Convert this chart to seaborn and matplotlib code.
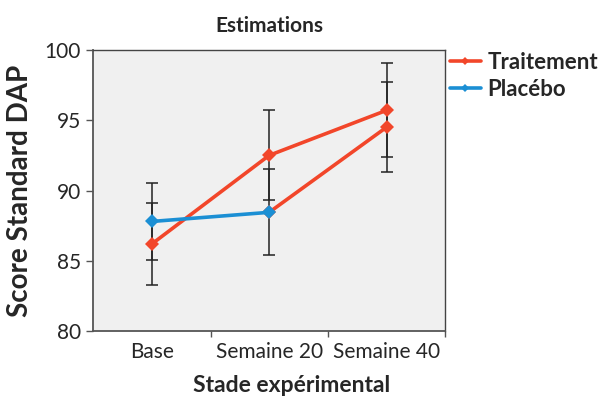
import pandas as pd
import matplotlib.pyplot as plt
import seaborn as sns

stades = ['Base', 'Semaine 20', 'Semaine 40']
traitement = [86.2, 92.5, 95.7]
traitement_err = [2.9, 3.2, 3.35]
placebo = [87.8, 88.45, 94.5]
placebo_err = [2.75, 3.05, 3.2]

df = pd.DataFrame({
    'Stade': stades * 2,
    'Score': traitement + placebo,
    'Groupe': ['Traitement'] * 3 + ['Placébo'] * 3,
})

sns.set_style('white')
plt.rcParams['font.family'] = ['Lato', 'DejaVu Sans']

fig = plt.figure(figsize=(6.09, 3.99), dpi=100)
ax = fig.add_axes([0.153, 0.170, 0.578, 0.705])
ax.set_facecolor('#f0f0f0')

orange, blue = '#f2462a', '#1b8fd4'
colors = {'Traitement': orange, 'Placébo': blue}
line_kw = dict(marker='D', markersize=7, markeredgewidth=0, linewidth=2.6, sort=False)

# error bars first so the category order is Base, S20, S40
for vals, errs in [(traitement, traitement_err), (placebo, placebo_err)]:
    ax.errorbar(stades, vals, yerr=errs, fmt='none', ecolor='#222222',
                elinewidth=1.1, capsize=4, capthick=1.1, zorder=2)

early = df[(df['Groupe'] == 'Traitement') | (df['Stade'] != 'Semaine 40')]
sns.lineplot(data=early, x='Stade', y='Score', hue='Groupe', palette=colors,
             ax=ax, zorder=3, **line_kw)
# in the original, the placebo segment S20 -> S40 is drawn in the treatment colour
late = df[(df['Groupe'] == 'Placébo') & (df['Stade'] != 'Base')]
sns.lineplot(data=late, x='Stade', y='Score', color=orange, ax=ax, zorder=2.5,
             legend=False, **line_kw)

ax.set_xlim(-0.5, 2.5)
ax.set_ylim(80, 100)
ax.set_yticks([80, 85, 90, 95, 100])
ax.set_xticks([0.5, 1.5, 2.5], minor=True)
ax.tick_params(axis='y', which='major', direction='out', length=5, width=1,
               color='#555555', labelsize=15, left=True, pad=4)
ax.tick_params(axis='x', which='major', length=0, labelsize=15, pad=8)
ax.tick_params(axis='x', which='minor', direction='out', length=4, width=1,
               color='#555555', bottom=True)

for side in ['top', 'right']:
    ax.spines[side].set_color('#444444')
    ax.spines[side].set_linewidth(1.0)
for side in ['left', 'bottom']:
    ax.spines[side].set_color('#555555')
    ax.spines[side].set_linewidth(1.3)

ax.set_title('Estimations', fontsize=15, fontweight='bold', pad=13)
ax.set_xlabel('Stade expérimental', fontsize=16.5, fontweight='bold', labelpad=9, x=0.5625)
ax.set_ylabel('Score Standard DAP', fontsize=20, fontweight='bold', labelpad=8)

handles, labels = ax.get_legend_handles_labels()
for h in handles:
    h.set_markersize(4)
    h.set_linewidth(2.6)
ax.legend(handles, labels, loc='upper left', bbox_to_anchor=(1.0, 1.01),
          frameon=False, handlelength=1.4, handletextpad=0.3,
          borderpad=0.2, borderaxespad=0, labelspacing=0.3,
          prop={'weight': 'bold', 'size': 16})

fig.savefig('out.png', dpi=100)
